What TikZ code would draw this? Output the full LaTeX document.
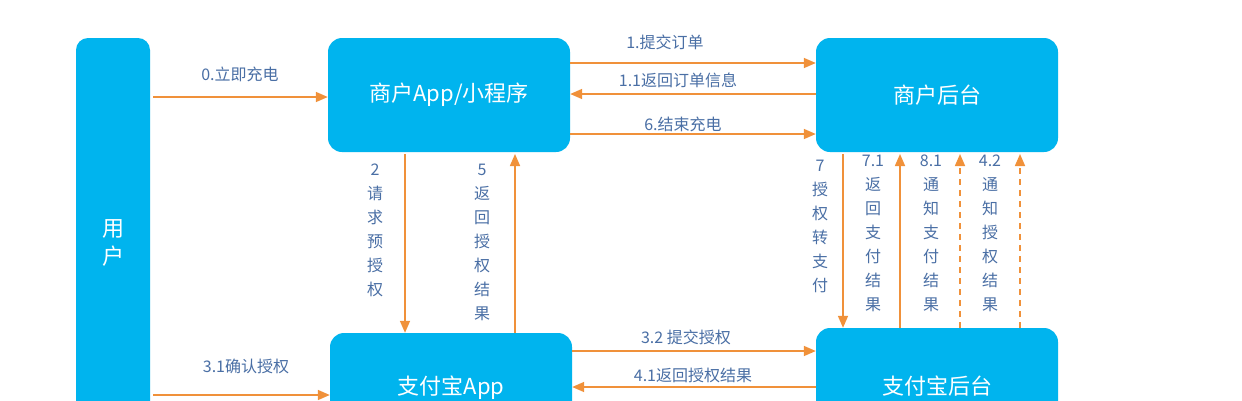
\documentclass[tikz,border=0pt]{standalone}
\usepackage{fontspec}
\setmainfont{Noto Sans CJK SC}
\usetikzlibrary{arrows.meta}
\definecolor{boxc}{HTML}{00B4EE}
\definecolor{arr}{HTML}{F0913A}
\definecolor{lab}{HTML}{4A6FA5}
\tikzset{
  box/.style={fill=boxc,rounded corners=14pt,text=white,font=\fontsize{22}{26}\selectfont},
  ar/.style={draw=arr,line width=1.6pt,-{Triangle[length=12pt,width=10pt]}},
  lb/.style={text=lab,font=\fontsize{16}{24}\selectfont,inner sep=0pt},
  vl/.style={lb,align=center,anchor=north},
}
\begin{document}
\begin{tikzpicture}[x=1pt,y=-1pt]
\useasboundingbox (0,0) rectangle (1242,400);
\fill[white] (0,0) rectangle (1242,400);
\clip (0,0) rectangle (1242,400);
\fill[boxc,rounded corners=12pt] (76,38) rectangle (150,440);
\node[text=white,font=\fontsize{22}{28}\selectfont,align=center] (user) at (113,243) {用\\户};
\node[box,minimum width=242pt,minimum height=114pt] (app) at (449,95) {商户App/小程序};
\node[box,minimum width=242pt,minimum height=114pt] (mb) at (937,95) {商户后台};
\node[box,minimum width=242pt,minimum height=114pt,text depth=0pt] (aapp) at (451,390) {};
\node[text=white,font=\fontsize{22}{26}\selectfont] (aappt) at (451,388) {支付宝App};
\node[box,minimum width=242pt,minimum height=114pt] (ab) at (937,385) {};
\node[text=white,font=\fontsize{22}{26}\selectfont] (abt) at (937,386) {支付宝后台};
% horizontal
\coordinate (u0) at (153,97); \coordinate (u31) at (153,395);
\draw[ar] (u0) -- (app.west |- u0);
\node[lb] (l0) at (240,74) {0.立即充电};
\draw[ar] (app.east |- 0,63) -- (mb.west |- 0,63);
\node[lb] (l1) at (665,42) {1.提交订单};
\draw[ar] (mb.west |- 0,94) -- (app.east |- 0,94);
\node[lb] (l11) at (678,80) {1.1返回订单信息};
\draw[ar] (app.east |- 0,134) -- (mb.west |- 0,134);
\node[lb] (l6) at (683,124) {6.结束充电};
\draw[ar] (aapp.east |- 0,351) -- (ab.west |- 0,351);
\node[lb] (l32) at (686,337) {3.2 提交授权};
\draw[ar] (ab.west |- 0,387) -- (aapp.east |- 0,387);
\node[lb] (l41) at (693,375) {4.1返回授权结果};
\draw[ar] (u31) -- (aapp.west |- u31);
\node[lb] (l31) at (246,366) {3.1确认授权};
% vertical
\draw[ar] (405,154) -- (aapp.north -| 405,0);
\node[vl] (l2) at (375,164) {2\\请\\求\\预\\授\\权};
\draw[ar] (aapp.north -| 515,0) -- (515,154);
\node[vl] (l5) at (482,164) {5\\返\\回\\授\\权\\结\\果};
\draw[ar] (843,154) -- (ab.north -| 843,0);
\node[vl] (l7) at (820,160) {7\\授\\权\\转\\支\\付};
\draw[ar] (ab.north -| 900,0) -- (900,154);
\node[vl] (l71) at (873,155) {7.1\\返\\回\\支\\付\\结\\果};
\draw[ar,dashed,dash pattern=on 6pt off 5pt] (ab.north -| 960,0) -- (960,154);
\node[vl] (l81) at (931,155) {8.1\\通\\知\\支\\付\\结\\果};
\draw[ar,dashed,dash pattern=on 6pt off 5pt] (ab.north -| 1020,0) -- (1020,154);
\node[vl] (l42) at (990,155) {4.2\\通\\知\\授\\权\\结\\果};
\end{tikzpicture}
\end{document}
